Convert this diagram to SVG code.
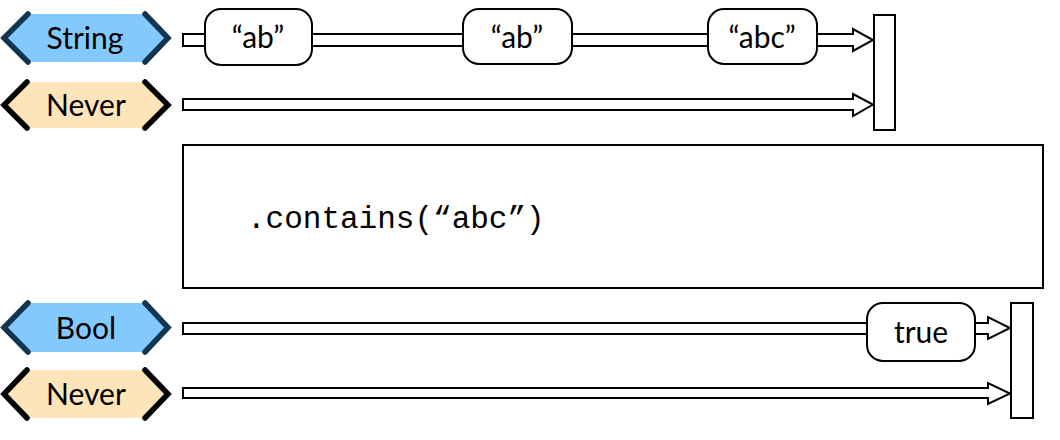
<svg xmlns="http://www.w3.org/2000/svg" width="1060" height="440" viewBox="0 0 1060 440">
<style>
.hexB{fill:#84C9FD;stroke:none}
.hexN{fill:#FDE5B9;stroke:none}
.chevB{fill:none;stroke:#14354f;stroke-width:5.5;stroke-linecap:round;stroke-linejoin:miter}
.chevN{fill:none;stroke:#000;stroke-width:5.5;stroke-linecap:round;stroke-linejoin:miter}
.lbl{font-family:Lato,"Open Sans","Liberation Sans",sans-serif;font-size:30px;fill:#000;text-anchor:middle}
.val{fill:#fff;stroke:#000;stroke-width:2}
.tube{fill:#fff;stroke:#000;stroke-width:2;stroke-linejoin:miter}
.bar{fill:#fff;stroke:#000;stroke-width:2}
.code{font-family:"Liberation Mono","DejaVu Sans Mono",monospace;font-size:31px;fill:#000}
</style>
<rect width="1060" height="440" fill="#fff"/>
<g id="connectors">
  <path class="tube" d="M183,34 H853 V29 L873,40 L853,51 V46 H183 Z"/>
  <path class="tube" d="M183,99 H853 V94 L873,104.5 L853,116 V110 H183 Z"/>
  <path class="tube" d="M183,323 H988 V317 L1010,328 L988,339 V334 H183 Z"/>
  <path class="tube" d="M183,388 H988 V383 L1010,393.5 L988,404 V398 H183 Z"/>
</g>
<g id="type-string">
  <polygon class="hexB" points="3,38 28,14 145,14 168,38 145,62 28,62"/>
  <polyline class="chevB" points="28,14 4,38 28,62"/>
  <polyline class="chevB" points="145,14 168,38 145,62"/>
  <text class="lbl" x="85" y="49">String</text>
</g>
<g id="type-never-1">
  <polygon class="hexN" points="3,105 27,82 145,82 168,105 145,128 27,128"/>
  <polyline class="chevN" points="27,82 4,105 27,128"/>
  <polyline class="chevN" points="145,82 168,105 145,128"/>
  <text class="lbl" x="86" y="116">Never</text>
</g>
<g id="val-ab-1">
  <rect class="val" x="205" y="9" width="107" height="56" rx="16"/>
  <text class="lbl" x="258" y="48">“ab”</text>
</g>
<g id="val-ab-2">
  <rect class="val" x="463" y="9" width="109" height="55" rx="16"/>
  <text class="lbl" x="517" y="48">“ab”</text>
</g>
<g id="val-abc">
  <rect class="val" x="708" y="9" width="109" height="55" rx="16"/>
  <text class="lbl" x="762" y="48">“abc”</text>
</g>
<g id="end-bar-1">
  <rect class="bar" x="874" y="15" width="21" height="115"/>
</g>
<g id="operator">
  <rect x="183" y="145" width="860" height="143" fill="#fff" stroke="#000" stroke-width="2"/>
  <text class="code" x="247" y="228">.contains(“abc”)</text>
</g>
<g id="type-bool">
  <polygon class="hexB" points="3,327.5 28,303 145,303 168,327.5 145,352 28,352"/>
  <polyline class="chevB" points="28,303 4,327.5 28,352"/>
  <polyline class="chevB" points="145,303 168,327.5 145,352"/>
  <text class="lbl" x="86" y="339">Bool</text>
</g>
<g id="type-never-2">
  <polygon class="hexN" points="3,394 27,370 145,370 168,394 145,418 27,418"/>
  <polyline class="chevN" points="27,370 4,394 27,418"/>
  <polyline class="chevN" points="145,370 168,394 145,418"/>
  <text class="lbl" x="86" y="405">Never</text>
</g>
<g id="val-true">
  <rect class="val" x="867" y="303" width="108" height="58" rx="16"/>
  <text class="lbl" x="921" y="343">true</text>
</g>
<g id="end-bar-2">
  <rect class="bar" x="1011" y="303" width="22" height="115"/>
</g>
</svg>
